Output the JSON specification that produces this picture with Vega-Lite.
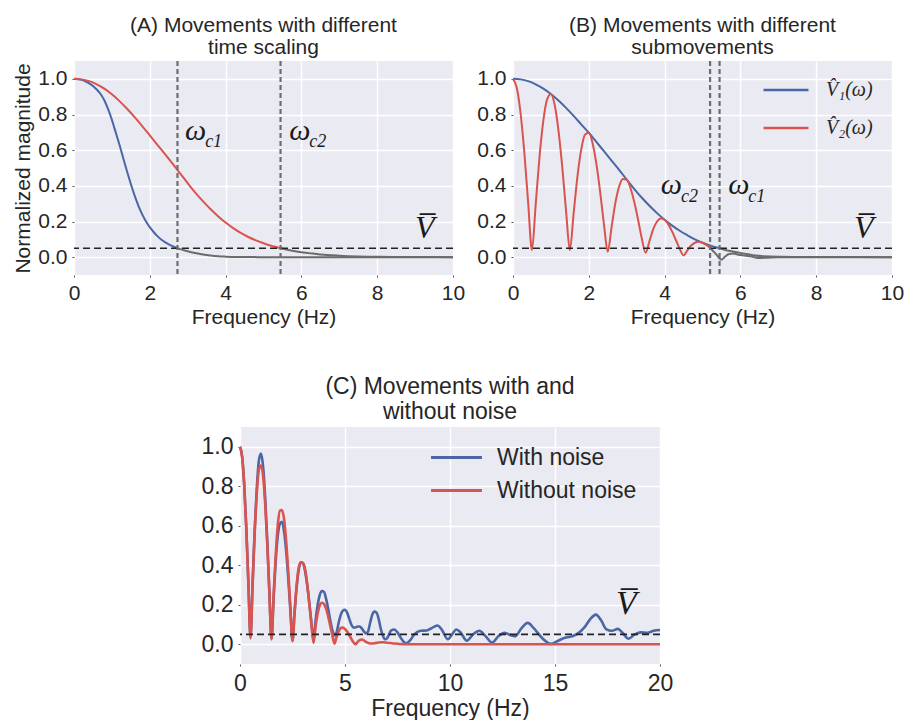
{
  "$schema": "https://vega.github.io/schema/vega-lite/v6.json",
  "background": "white",
  "padding": {"left": 12, "top": 14, "right": 0, "bottom": 0},
  "config": {
    "view": {"fill": "#EAEAF2", "stroke": null},
    "axis": {
      "domain": false,
      "grid": true,
      "gridColor": "white",
      "gridWidth": 1.4,
      "tickColor": "#555555",
      "tickSize": 2,
      "labelFont": "Liberation Sans",
      "labelFontSize": 21,
      "labelColor": "#262626",
      "labelPadding": 5,
      "labelFlush": false,
      "titleFont": "Liberation Sans",
      "titleFontSize": 21,
      "titleFontWeight": "normal",
      "titleColor": "#262626"
    },
    "title": {
      "font": "Liberation Sans",
      "fontSize": 21,
      "fontWeight": "normal",
      "color": "#262626",
      "lineHeight": 22,
      "offset": 2,
      "frame": "group"
    },
    "legend": {"labelColor": "#262626"}
  },
  "resolve": {"scale": {"color": "independent"}, "legend": {"color": "independent"}},
  "datasets": {
    "curvesA": [
      {"f":0,"v":1,"s":"V1"},{"f":0.1,"v":0.998,"s":"V1"},{"f":0.2,"v":0.994,"s":"V1"},{"f":0.3,"v":0.986,"s":"V1"},{"f":0.4,"v":0.975,"s":"V1"},{"f":0.5,"v":0.96,"s":"V1"},{"f":0.6,"v":0.94,"s":"V1"},{"f":0.7,"v":0.915,"s":"V1"},{"f":0.8,"v":0.88,"s":"V1"},{"f":0.9,"v":0.83,"s":"V1"},{"f":1.0,"v":0.77,"s":"V1"},{"f":1.1,"v":0.7,"s":"V1"},{"f":1.2,"v":0.63,"s":"V1"},{"f":1.3,"v":0.555,"s":"V1"},{"f":1.4,"v":0.48,"s":"V1"},{"f":1.5,"v":0.41,"s":"V1"},{"f":1.6,"v":0.345,"s":"V1"},{"f":1.7,"v":0.288,"s":"V1"},{"f":1.8,"v":0.24,"s":"V1"},{"f":1.9,"v":0.2,"s":"V1"},{"f":2.0,"v":0.168,"s":"V1"},{"f":2.1,"v":0.141,"s":"V1"},{"f":2.2,"v":0.118,"s":"V1"},{"f":2.3,"v":0.099,"s":"V1"},{"f":2.4,"v":0.084,"s":"V1"},{"f":2.5,"v":0.072,"s":"V1"},{"f":2.6,"v":0.062,"s":"V1"},{"f":2.7,"v":0.053,"s":"V1"},{"f":2.73,"v":0.05,"s":"V1"},
      {"f":2.73,"v":0.05,"s":"V1 tail"},{"f":2.8,"v":0.045,"s":"V1 tail"},{"f":2.9,"v":0.039,"s":"V1 tail"},{"f":3.0,"v":0.033,"s":"V1 tail"},{"f":3.2,"v":0.023,"s":"V1 tail"},{"f":3.4,"v":0.015,"s":"V1 tail"},{"f":3.6,"v":0.009,"s":"V1 tail"},{"f":3.8,"v":0.005,"s":"V1 tail"},{"f":4.0,"v":0.003,"s":"V1 tail"},{"f":4.5,"v":0.001,"s":"V1 tail"},{"f":5.0,"v":0,"s":"V1 tail"},{"f":10,"v":0,"s":"V1 tail"},
      {"f":0,"v":1,"s":"V2"},{"f":0.2,"v":0.997,"s":"V2"},{"f":0.4,"v":0.987,"s":"V2"},{"f":0.6,"v":0.969,"s":"V2"},{"f":0.8,"v":0.945,"s":"V2"},{"f":1.0,"v":0.913,"s":"V2"},{"f":1.2,"v":0.875,"s":"V2"},{"f":1.4,"v":0.832,"s":"V2"},{"f":1.6,"v":0.785,"s":"V2"},{"f":1.8,"v":0.735,"s":"V2"},{"f":2.0,"v":0.683,"s":"V2"},{"f":2.2,"v":0.63,"s":"V2"},{"f":2.4,"v":0.578,"s":"V2"},{"f":2.6,"v":0.525,"s":"V2"},{"f":2.8,"v":0.47,"s":"V2"},{"f":3.0,"v":0.415,"s":"V2"},{"f":3.2,"v":0.362,"s":"V2"},{"f":3.4,"v":0.314,"s":"V2"},{"f":3.6,"v":0.27,"s":"V2"},{"f":3.8,"v":0.23,"s":"V2"},{"f":4.0,"v":0.194,"s":"V2"},{"f":4.2,"v":0.163,"s":"V2"},{"f":4.4,"v":0.136,"s":"V2"},{"f":4.6,"v":0.113,"s":"V2"},{"f":4.8,"v":0.094,"s":"V2"},{"f":5.0,"v":0.078,"s":"V2"},{"f":5.2,"v":0.064,"s":"V2"},{"f":5.4,"v":0.053,"s":"V2"},{"f":5.45,"v":0.05,"s":"V2"},
      {"f":5.45,"v":0.05,"s":"V2 tail"},{"f":5.6,"v":0.043,"s":"V2 tail"},{"f":5.8,"v":0.035,"s":"V2 tail"},{"f":6.0,"v":0.028,"s":"V2 tail"},{"f":6.3,"v":0.02,"s":"V2 tail"},{"f":6.6,"v":0.013,"s":"V2 tail"},{"f":7.0,"v":0.008,"s":"V2 tail"},{"f":7.5,"v":0.004,"s":"V2 tail"},{"f":8.0,"v":0.002,"s":"V2 tail"},{"f":9.0,"v":0.001,"s":"V2 tail"},{"f":10,"v":0,"s":"V2 tail"}
    ],
    "curvesB": [
      {"f":0,"v":1,"s":"V1"},{"f":0.2,"v":0.997,"s":"V1"},{"f":0.4,"v":0.987,"s":"V1"},{"f":0.6,"v":0.969,"s":"V1"},{"f":0.8,"v":0.945,"s":"V1"},{"f":1.0,"v":0.915,"s":"V1"},{"f":1.2,"v":0.878,"s":"V1"},{"f":1.4,"v":0.837,"s":"V1"},{"f":1.6,"v":0.792,"s":"V1"},{"f":1.8,"v":0.745,"s":"V1"},{"f":2.0,"v":0.698,"s":"V1"},{"f":2.2,"v":0.646,"s":"V1"},{"f":2.4,"v":0.594,"s":"V1"},{"f":2.6,"v":0.542,"s":"V1"},{"f":2.8,"v":0.49,"s":"V1"},{"f":3.0,"v":0.435,"s":"V1"},{"f":3.2,"v":0.382,"s":"V1"},{"f":3.4,"v":0.333,"s":"V1"},{"f":3.6,"v":0.288,"s":"V1"},{"f":3.8,"v":0.247,"s":"V1"},{"f":4.0,"v":0.21,"s":"V1"},{"f":4.2,"v":0.177,"s":"V1"},{"f":4.4,"v":0.148,"s":"V1"},{"f":4.6,"v":0.123,"s":"V1"},{"f":4.8,"v":0.1,"s":"V1"},{"f":5.0,"v":0.081,"s":"V1"},{"f":5.2,"v":0.066,"s":"V1"},{"f":5.4,"v":0.053,"s":"V1"},{"f":5.45,"v":0.05,"s":"V1"},
      {"f":5.45,"v":0.05,"s":"V1 tail"},{"f":5.6,"v":0.04,"s":"V1 tail"},{"f":5.8,"v":0.032,"s":"V1 tail"},{"f":6.0,"v":0.024,"s":"V1 tail"},{"f":6.2,"v":0.016,"s":"V1 tail"},{"f":6.4,"v":0.009,"s":"V1 tail"},{"f":6.6,"v":0.005,"s":"V1 tail"},{"f":7.0,"v":0.002,"s":"V1 tail"},{"f":8.0,"v":0.001,"s":"V1 tail"},{"f":10,"v":0,"s":"V1 tail"},
      {"f":0,"v":1,"s":"V2"},{"f":0.1,"v":0.95,"s":"V2"},{"f":0.2,"v":0.807,"s":"V2"},{"f":0.3,"v":0.584,"s":"V2"},{"f":0.4,"v":0.305,"s":"V2"},{"f":0.5,"v":0.04,"s":"V2"},{"f":0.6,"v":0.299,"s":"V2"},{"f":0.7,"v":0.563,"s":"V2"},{"f":0.8,"v":0.765,"s":"V2"},{"f":0.9,"v":0.885,"s":"V2"},{"f":1.0,"v":0.915,"s":"V2"},{"f":1.1,"v":0.853,"s":"V2"},{"f":1.2,"v":0.71,"s":"V2"},{"f":1.3,"v":0.505,"s":"V2"},{"f":1.4,"v":0.259,"s":"V2"},{"f":1.5,"v":0.04,"s":"V2"},{"f":1.6,"v":0.245,"s":"V2"},{"f":1.7,"v":0.452,"s":"V2"},{"f":1.8,"v":0.603,"s":"V2"},{"f":1.9,"v":0.687,"s":"V2"},{"f":2.0,"v":0.698,"s":"V2"},{"f":2.1,"v":0.639,"s":"V2"},{"f":2.2,"v":0.523,"s":"V2"},{"f":2.3,"v":0.365,"s":"V2"},{"f":2.4,"v":0.184,"s":"V2"},{"f":2.5,"v":0.03,"s":"V2"},{"f":2.6,"v":0.167,"s":"V2"},{"f":2.7,"v":0.303,"s":"V2"},{"f":2.8,"v":0.396,"s":"V2"},{"f":2.9,"v":0.439,"s":"V2"},{"f":3.0,"v":0.435,"s":"V2"},{"f":3.1,"v":0.388,"s":"V2"},{"f":3.2,"v":0.309,"s":"V2"},{"f":3.3,"v":0.21,"s":"V2"},{"f":3.4,"v":0.103,"s":"V2"},{"f":3.5,"v":0.025,"s":"V2"},{"f":3.6,"v":0.089,"s":"V2"},{"f":3.7,"v":0.157,"s":"V2"},{"f":3.8,"v":0.2,"s":"V2"},{"f":3.9,"v":0.217,"s":"V2"},{"f":4.0,"v":0.21,"s":"V2"},{"f":4.1,"v":0.184,"s":"V2"},{"f":4.2,"v":0.143,"s":"V2"},{"f":4.3,"v":0.095,"s":"V2"},{"f":4.4,"v":0.046,"s":"V2"},{"f":4.5,"v":0.01,"s":"V2"},{"f":4.6,"v":0.038,"s":"V2"},{"f":4.7,"v":0.065,"s":"V2"},{"f":4.8,"v":0.081,"s":"V2"},{"f":4.9,"v":0.086,"s":"V2"},{"f":5.0,"v":0.081,"s":"V2"},{"f":5.1,"v":0.069,"s":"V2"},{"f":5.2,"v":0.053,"s":"V2"},
      {"f":5.2,"v":0.053,"s":"V2 tail"},{"f":5.3,"v":0.03,"s":"V2 tail"},{"f":5.4,"v":0.006,"s":"V2 tail"},{"f":5.45,"v":-0.008,"s":"V2 tail"},{"f":5.5,"v":-0.014,"s":"V2 tail"},{"f":5.6,"v":0.004,"s":"V2 tail"},{"f":5.7,"v":0.018,"s":"V2 tail"},{"f":5.8,"v":0.02,"s":"V2 tail"},{"f":6.0,"v":0.012,"s":"V2 tail"},{"f":6.3,"v":0.003,"s":"V2 tail"},{"f":6.5,"v":-0.005,"s":"V2 tail"},{"f":6.7,"v":-0.003,"s":"V2 tail"},{"f":7.0,"v":0,"s":"V2 tail"},{"f":10,"v":0,"s":"V2 tail"}
    ],
    "curvesC": [
      {"f":0,"v":1,"s":"With noise"},{"f":0.1,"v":0.95,"s":"With noise"},{"f":0.2,"v":0.81,"s":"With noise"},{"f":0.3,"v":0.59,"s":"With noise"},{"f":0.4,"v":0.31,"s":"With noise"},{"f":0.5,"v":0.04,"s":"With noise"},{"f":0.6,"v":0.31,"s":"With noise"},{"f":0.7,"v":0.58,"s":"With noise"},{"f":0.8,"v":0.79,"s":"With noise"},{"f":0.9,"v":0.93,"s":"With noise"},{"f":1.0,"v":0.965,"s":"With noise"},{"f":1.1,"v":0.9,"s":"With noise"},{"f":1.2,"v":0.74,"s":"With noise"},{"f":1.3,"v":0.52,"s":"With noise"},{"f":1.4,"v":0.26,"s":"With noise"},{"f":1.5,"v":0.03,"s":"With noise"},{"f":1.6,"v":0.23,"s":"With noise"},{"f":1.7,"v":0.42,"s":"With noise"},{"f":1.8,"v":0.55,"s":"With noise"},{"f":1.9,"v":0.61,"s":"With noise"},{"f":2.0,"v":0.62,"s":"With noise"},{"f":2.1,"v":0.57,"s":"With noise"},{"f":2.2,"v":0.47,"s":"With noise"},{"f":2.3,"v":0.33,"s":"With noise"},{"f":2.4,"v":0.17,"s":"With noise"},{"f":2.5,"v":0.02,"s":"With noise"},{"f":2.6,"v":0.16,"s":"With noise"},{"f":2.7,"v":0.29,"s":"With noise"},{"f":2.8,"v":0.38,"s":"With noise"},{"f":2.9,"v":0.415,"s":"With noise"},{"f":3.0,"v":0.41,"s":"With noise"},{"f":3.1,"v":0.37,"s":"With noise"},{"f":3.2,"v":0.3,"s":"With noise"},{"f":3.3,"v":0.21,"s":"With noise"},{"f":3.4,"v":0.11,"s":"With noise"},{"f":3.5,"v":0.02,"s":"With noise"},{"f":3.6,"v":0.12,"s":"With noise"},{"f":3.7,"v":0.2,"s":"With noise"},{"f":3.8,"v":0.25,"s":"With noise"},{"f":3.9,"v":0.27,"s":"With noise"},{"f":4.0,"v":0.265,"s":"With noise"},{"f":4.1,"v":0.23,"s":"With noise"},{"f":4.2,"v":0.18,"s":"With noise"},{"f":4.3,"v":0.12,"s":"With noise"},{"f":4.4,"v":0.07,"s":"With noise"},{"f":4.5,"v":0.045,"s":"With noise"},{"f":4.6,"v":0.06,"s":"With noise"},{"f":4.7,"v":0.11,"s":"With noise"},{"f":4.8,"v":0.15,"s":"With noise"},{"f":4.9,"v":0.17,"s":"With noise"},{"f":5.0,"v":0.175,"s":"With noise"},{"f":5.1,"v":0.16,"s":"With noise"},{"f":5.2,"v":0.13,"s":"With noise"},{"f":5.3,"v":0.1,"s":"With noise"},{"f":5.4,"v":0.085,"s":"With noise"},{"f":5.5,"v":0.085,"s":"With noise"},{"f":5.6,"v":0.09,"s":"With noise"},{"f":5.7,"v":0.09,"s":"With noise"},{"f":5.8,"v":0.08,"s":"With noise"},{"f":5.9,"v":0.065,"s":"With noise"},{"f":6.0,"v":0.055,"s":"With noise"},{"f":6.1,"v":0.065,"s":"With noise"},{"f":6.2,"v":0.11,"s":"With noise"},{"f":6.3,"v":0.15,"s":"With noise"},{"f":6.4,"v":0.165,"s":"With noise"},{"f":6.5,"v":0.16,"s":"With noise"},{"f":6.6,"v":0.13,"s":"With noise"},{"f":6.7,"v":0.08,"s":"With noise"},{"f":6.8,"v":0.045,"s":"With noise"},{"f":6.9,"v":0.025,"s":"With noise"},{"f":7.0,"v":0.03,"s":"With noise"},{"f":7.2,"v":0.07,"s":"With noise"},{"f":7.35,"v":0.075,"s":"With noise"},{"f":7.5,"v":0.06,"s":"With noise"},{"f":7.7,"v":0.025,"s":"With noise"},{"f":7.9,"v":0.005,"s":"With noise"},{"f":8.1,"v":0.02,"s":"With noise"},{"f":8.3,"v":0.05,"s":"With noise"},{"f":8.6,"v":0.068,"s":"With noise"},{"f":8.9,"v":0.07,"s":"With noise"},{"f":9.1,"v":0.08,"s":"With noise"},{"f":9.4,"v":0.095,"s":"With noise"},{"f":9.6,"v":0.075,"s":"With noise"},{"f":9.9,"v":0.025,"s":"With noise"},{"f":10.1,"v":0.05,"s":"With noise"},{"f":10.3,"v":0.075,"s":"With noise"},{"f":10.5,"v":0.06,"s":"With noise"},{"f":10.8,"v":0.018,"s":"With noise"},{"f":11.1,"v":0.05,"s":"With noise"},{"f":11.4,"v":0.068,"s":"With noise"},{"f":11.7,"v":0.04,"s":"With noise"},{"f":12.0,"v":0.008,"s":"With noise"},{"f":12.3,"v":0.04,"s":"With noise"},{"f":12.6,"v":0.058,"s":"With noise"},{"f":12.9,"v":0.045,"s":"With noise"},{"f":13.1,"v":0.04,"s":"With noise"},{"f":13.4,"v":0.08,"s":"With noise"},{"f":13.7,"v":0.108,"s":"With noise"},{"f":14.0,"v":0.08,"s":"With noise"},{"f":14.4,"v":0.03,"s":"With noise"},{"f":14.8,"v":0.002,"s":"With noise"},{"f":15.1,"v":0.015,"s":"With noise"},{"f":15.4,"v":0.03,"s":"With noise"},{"f":15.8,"v":0.04,"s":"With noise"},{"f":16.1,"v":0.055,"s":"With noise"},{"f":16.4,"v":0.085,"s":"With noise"},{"f":16.7,"v":0.13,"s":"With noise"},{"f":16.95,"v":0.15,"s":"With noise"},{"f":17.2,"v":0.12,"s":"With noise"},{"f":17.45,"v":0.075,"s":"With noise"},{"f":17.7,"v":0.068,"s":"With noise"},{"f":18.0,"v":0.078,"s":"With noise"},{"f":18.2,"v":0.06,"s":"With noise"},{"f":18.5,"v":0.028,"s":"With noise"},{"f":18.8,"v":0.05,"s":"With noise"},{"f":19.1,"v":0.06,"s":"With noise"},{"f":19.4,"v":0.058,"s":"With noise"},{"f":19.7,"v":0.068,"s":"With noise"},{"f":20.0,"v":0.072,"s":"With noise"},
      {"f":0,"v":1,"s":"Without noise"},{"f":0.1,"v":0.95,"s":"Without noise"},{"f":0.2,"v":0.807,"s":"Without noise"},{"f":0.3,"v":0.584,"s":"Without noise"},{"f":0.4,"v":0.305,"s":"Without noise"},{"f":0.5,"v":0.03,"s":"Without noise"},{"f":0.6,"v":0.299,"s":"Without noise"},{"f":0.7,"v":0.563,"s":"Without noise"},{"f":0.8,"v":0.765,"s":"Without noise"},{"f":0.9,"v":0.885,"s":"Without noise"},{"f":1.0,"v":0.905,"s":"Without noise"},{"f":1.1,"v":0.853,"s":"Without noise"},{"f":1.2,"v":0.71,"s":"Without noise"},{"f":1.3,"v":0.505,"s":"Without noise"},{"f":1.4,"v":0.259,"s":"Without noise"},{"f":1.5,"v":0.024,"s":"Without noise"},{"f":1.6,"v":0.245,"s":"Without noise"},{"f":1.7,"v":0.452,"s":"Without noise"},{"f":1.8,"v":0.603,"s":"Without noise"},{"f":1.9,"v":0.677,"s":"Without noise"},{"f":2.0,"v":0.68,"s":"Without noise"},{"f":2.1,"v":0.632,"s":"Without noise"},{"f":2.2,"v":0.52,"s":"Without noise"},{"f":2.3,"v":0.365,"s":"Without noise"},{"f":2.4,"v":0.184,"s":"Without noise"},{"f":2.5,"v":0.015,"s":"Without noise"},{"f":2.6,"v":0.167,"s":"Without noise"},{"f":2.7,"v":0.303,"s":"Without noise"},{"f":2.8,"v":0.39,"s":"Without noise"},{"f":2.9,"v":0.415,"s":"Without noise"},{"f":3.0,"v":0.41,"s":"Without noise"},{"f":3.1,"v":0.38,"s":"Without noise"},{"f":3.2,"v":0.305,"s":"Without noise"},{"f":3.3,"v":0.207,"s":"Without noise"},{"f":3.4,"v":0.102,"s":"Without noise"},{"f":3.5,"v":0.007,"s":"Without noise"},{"f":3.6,"v":0.09,"s":"Without noise"},{"f":3.7,"v":0.157,"s":"Without noise"},{"f":3.8,"v":0.198,"s":"Without noise"},{"f":3.9,"v":0.21,"s":"Without noise"},{"f":4.0,"v":0.203,"s":"Without noise"},{"f":4.1,"v":0.18,"s":"Without noise"},{"f":4.2,"v":0.14,"s":"Without noise"},{"f":4.3,"v":0.093,"s":"Without noise"},{"f":4.4,"v":0.045,"s":"Without noise"},{"f":4.5,"v":0.003,"s":"Without noise"},{"f":4.6,"v":0.038,"s":"Without noise"},{"f":4.7,"v":0.065,"s":"Without noise"},{"f":4.8,"v":0.082,"s":"Without noise"},{"f":4.9,"v":0.084,"s":"Without noise"},{"f":5.0,"v":0.077,"s":"Without noise"},{"f":5.1,"v":0.064,"s":"Without noise"},{"f":5.2,"v":0.047,"s":"Without noise"},{"f":5.3,"v":0.028,"s":"Without noise"},{"f":5.4,"v":0.01,"s":"Without noise"},{"f":5.5,"v":0,"s":"Without noise"},{"f":5.6,"v":0.012,"s":"Without noise"},{"f":5.7,"v":0.021,"s":"Without noise"},{"f":5.8,"v":0.024,"s":"Without noise"},{"f":5.9,"v":0.02,"s":"Without noise"},{"f":6.0,"v":0.012,"s":"Without noise"},{"f":6.2,"v":0.004,"s":"Without noise"},{"f":6.4,"v":0.005,"s":"Without noise"},{"f":6.6,"v":0.009,"s":"Without noise"},{"f":6.8,"v":0.01,"s":"Without noise"},{"f":7.0,"v":0.008,"s":"Without noise"},{"f":7.3,"v":0.004,"s":"Without noise"},{"f":7.6,"v":0.001,"s":"Without noise"},{"f":8.0,"v":0,"s":"Without noise"},{"f":20,"v":0,"s":"Without noise"}
    ]
  },
  "vconcat": [
    {
      "resolve": {"scale": {"color": "independent"}, "legend": {"color": "independent"}},
      "hconcat": [
        {
          "width": 379,
          "height": 214,
          "title": {"text": ["(A) Movements with different", "time scaling"]},
          "layer": [
            {
              "data": {"name": "curvesA"},
              "mark": {"type": "line", "strokeWidth": 2, "interpolate": "monotone"},
              "encoding": {
                "x": {"field": "f", "type": "quantitative", "scale": {"domain": [0, 10], "nice": false}, "axis": {"values": [0, 2, 4, 6, 8, 10], "title": "Frequency (Hz)", "titlePadding": 3}},
                "y": {"field": "v", "type": "quantitative", "scale": {"domain": [-0.1, 1.1], "nice": false, "zero": false}, "axis": {"values": [0, 0.2, 0.4, 0.6, 0.8, 1.0], "format": ".1f", "title": "Normalized magnitude", "titlePadding": 4}},
                "color": {"field": "s", "type": "nominal", "scale": {"domain": ["V1", "V2", "V1 tail", "V2 tail"], "range": ["#4A66A6", "#D9534F", "#6b6b6b", "#6b6b6b"]}, "legend": null}
              }
            },
            {
              "data": {"values": [{"v": 0.05}]},
              "mark": {"type": "rule", "strokeDash": [7, 4], "strokeWidth": 1.6, "color": "#222222"},
              "encoding": {"y": {"field": "v", "type": "quantitative"}}
            },
            {
              "data": {"values": [{"f": 2.73}, {"f": 5.45}]},
              "mark": {"type": "rule", "strokeDash": [5, 3], "strokeWidth": 2.2, "color": "#6e6e6e"},
              "encoding": {"x": {"field": "f", "type": "quantitative"}}
            },
            {
              "data": {"values": [{"f": 2.93, "v": 0.658, "t": "ω"}, {"f": 5.68, "v": 0.658, "t": "ω"}]},
              "mark": {"type": "text", "font": "Liberation Serif", "fontStyle": "italic", "fontSize": 30, "align": "left", "baseline": "alphabetic", "color": "#1a1a1a"},
              "encoding": {"x": {"field": "f", "type": "quantitative"}, "y": {"field": "v", "type": "quantitative"}, "text": {"field": "t"}}
            },
            {
              "data": {"values": [{"f": 3.46, "v": 0.617, "t": "c1"}, {"f": 6.21, "v": 0.617, "t": "c2"}]},
              "mark": {"type": "text", "font": "Liberation Serif", "fontStyle": "italic", "fontSize": 18, "align": "left", "baseline": "alphabetic", "color": "#1a1a1a"},
              "encoding": {"x": {"field": "f", "type": "quantitative"}, "y": {"field": "v", "type": "quantitative"}, "text": {"field": "t"}}
            },
            {
              "data": {"values": [{"f": 9.0, "v": 0.109, "t": "V̅"}]},
              "mark": {"type": "text", "font": "Liberation Serif", "fontStyle": "italic", "fontSize": 32, "align": "left", "baseline": "alphabetic", "color": "#1a1a1a"},
              "encoding": {"x": {"field": "f", "type": "quantitative"}, "y": {"field": "v", "type": "quantitative"}, "text": {"field": "t"}}
            }
          ]
        },
        {
          "width": 379,
          "height": 214,
          "title": {"text": ["(B) Movements with different", "submovements"]},
          "layer": [
            {
              "data": {"name": "curvesB"},
              "mark": {"type": "line", "strokeWidth": 2, "interpolate": "monotone"},
              "encoding": {
                "x": {"field": "f", "type": "quantitative", "scale": {"domain": [0, 10], "nice": false}, "axis": {"values": [0, 2, 4, 6, 8, 10], "title": "Frequency (Hz)", "titlePadding": 3}},
                "y": {"field": "v", "type": "quantitative", "scale": {"domain": [-0.1, 1.1], "nice": false, "zero": false}, "axis": {"values": [0, 0.2, 0.4, 0.6, 0.8, 1.0], "format": ".1f", "title": null}},
                "color": {
                  "field": "s", "type": "nominal",
                  "scale": {"domain": ["V1", "V2", "V1 tail", "V2 tail"], "range": ["#4A66A6", "#D9534F", "#6b6b6b", "#6b6b6b"]},
                  "legend": {
                    "values": ["V1", "V2"],
                    "title": null,
                    "orient": "none",
                    "legendX": 249,
                    "legendY": 5,
                    "symbolType": "stroke",
                    "symbolSize": 2025,
                    "symbolStrokeWidth": 2.5,
                    "labelFont": "Liberation Serif",
                    "labelFontStyle": "italic",
                    "labelFontSize": 20,
                    "labelOffset": 16,
                    "rowPadding": 4,
                    "labelExpr": "datum.value == 'V1' ? 'V̂₁(ω)' : 'V̂₂(ω)'"
                  }
                }
              }
            },
            {
              "data": {"values": [{"v": 0.05}]},
              "mark": {"type": "rule", "strokeDash": [7, 4], "strokeWidth": 1.6, "color": "#222222"},
              "encoding": {"y": {"field": "v", "type": "quantitative"}}
            },
            {
              "data": {"values": [{"f": 5.2}, {"f": 5.45}]},
              "mark": {"type": "rule", "strokeDash": [5, 3], "strokeWidth": 2.2, "color": "#6e6e6e"},
              "encoding": {"x": {"field": "f", "type": "quantitative"}}
            },
            {
              "data": {"values": [{"f": 3.9, "v": 0.352, "t": "ω"}, {"f": 5.68, "v": 0.352, "t": "ω"}]},
              "mark": {"type": "text", "font": "Liberation Serif", "fontStyle": "italic", "fontSize": 30, "align": "left", "baseline": "alphabetic", "color": "#1a1a1a"},
              "encoding": {"x": {"field": "f", "type": "quantitative"}, "y": {"field": "v", "type": "quantitative"}, "text": {"field": "t"}}
            },
            {
              "data": {"values": [{"f": 4.43, "v": 0.312, "t": "c2"}, {"f": 6.21, "v": 0.312, "t": "c1"}]},
              "mark": {"type": "text", "font": "Liberation Serif", "fontStyle": "italic", "fontSize": 18, "align": "left", "baseline": "alphabetic", "color": "#1a1a1a"},
              "encoding": {"x": {"field": "f", "type": "quantitative"}, "y": {"field": "v", "type": "quantitative"}, "text": {"field": "t"}}
            },
            {
              "data": {"values": [{"f": 9.0, "v": 0.109, "t": "V̅"}]},
              "mark": {"type": "text", "font": "Liberation Serif", "fontStyle": "italic", "fontSize": 32, "align": "left", "baseline": "alphabetic", "color": "#1a1a1a"},
              "encoding": {"x": {"field": "f", "type": "quantitative"}, "y": {"field": "v", "type": "quantitative"}, "text": {"field": "t"}}
            }
          ]
        }
      ],
      "spacing": 11
    },
    {
      "resolve": {"scale": {"color": "independent"}, "legend": {"color": "independent"}},
      "hconcat": [
        {
          "width": 127,
          "height": 10,
          "view": {"fill": null, "stroke": null},
          "data": {"values": [{}]},
          "mark": {"type": "point", "opacity": 0}
        },
        {
          "width": 420,
          "height": 237,
          "title": {"text": ["(C) Movements with and", "without noise"], "fontSize": 23, "lineHeight": 25, "offset": 3},
          "layer": [
            {
              "data": {"name": "curvesC"},
              "mark": {"type": "line", "strokeWidth": 2.6, "interpolate": "monotone"},
              "encoding": {
                "x": {"field": "f", "type": "quantitative", "scale": {"domain": [0, 20], "nice": false}, "axis": {"values": [0, 5, 10, 15, 20], "title": "Frequency (Hz)", "labelFontSize": 23, "labelPadding": 6, "titleFontSize": 23, "titlePadding": 2}},
                "y": {"field": "v", "type": "quantitative", "scale": {"domain": [-0.1, 1.1], "nice": false, "zero": false}, "axis": {"values": [0, 0.2, 0.4, 0.6, 0.8, 1.0], "format": ".1f", "title": null, "labelFontSize": 23}},
                "color": {
                  "field": "s", "type": "nominal",
                  "scale": {"domain": ["With noise", "Without noise"], "range": ["#4A66A6", "#D9534F"]},
                  "legend": {
                    "title": null,
                    "orient": "none",
                    "legendX": 196,
                    "legendY": 10,
                    "symbolType": "M-1.34,0L1.34,0",
                    "symbolSize": 1444,
                    "symbolStrokeWidth": 2.8,
                    "labelFont": "Liberation Sans",
                    "labelFontSize": 23,
                    "labelOffset": 20,
                    "rowPadding": 0
                  }
                }
              }
            },
            {
              "data": {"values": [{"v": 0.05}]},
              "mark": {"type": "rule", "strokeDash": [7, 4], "strokeWidth": 1.8, "color": "#222222"},
              "encoding": {"y": {"field": "v", "type": "quantitative"}}
            },
            {
              "data": {"values": [{"f": 17.9, "v": 0.152, "t": "V̅"}]},
              "mark": {"type": "text", "font": "Liberation Serif", "fontStyle": "italic", "fontSize": 34, "align": "left", "baseline": "alphabetic", "color": "#1a1a1a"},
              "encoding": {"x": {"field": "f", "type": "quantitative"}, "y": {"field": "v", "type": "quantitative"}, "text": {"field": "t"}}
            }
          ]
        }
      ],
      "spacing": 0
    }
  ],
  "spacing": 49
}
